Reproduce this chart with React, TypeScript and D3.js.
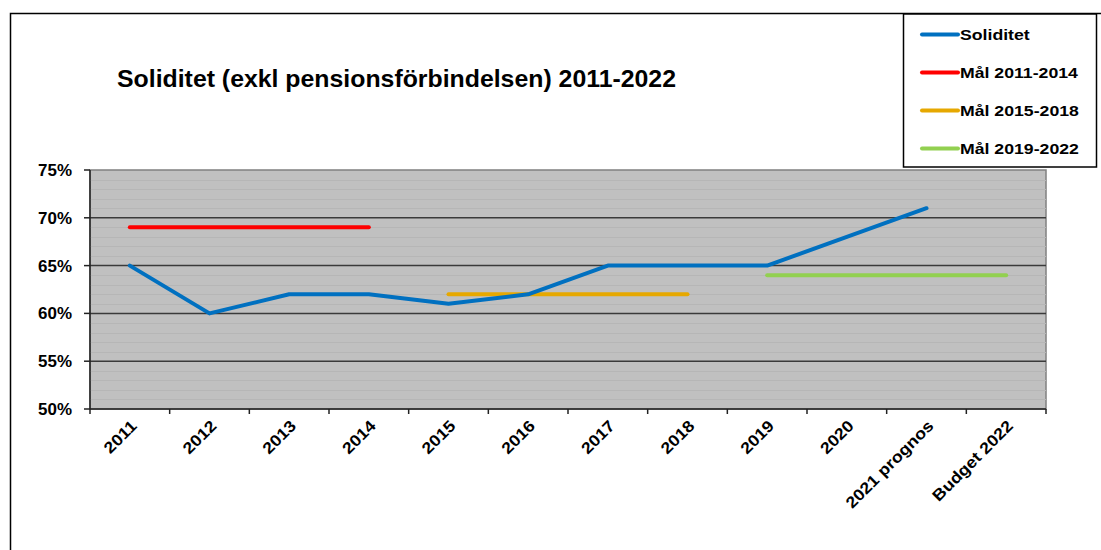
import { useEffect, useRef } from "react";
import { select, scaleLinear, scaleBand, line, range } from "d3";

const width = 1101;
const height = 550;

const categories = [
  "2011", "2012", "2013", "2014", "2015", "2016",
  "2017", "2018", "2019", "2020", "2021 prognos", "Budget 2022",
];
// Soliditet in percent, null where there is no value
const soliditet: (number | null)[] = [65, 60, 62, 62, 61, 62, 65, 65, 65, 68, 71, null];
const mal2011: (number | null)[] = [69, 69, 69, 69, null, null, null, null, null, null, null, null];
const mal2015: (number | null)[] = [null, null, null, null, 62, 62, 62, 62, null, null, null, null];
const mal2019: (number | null)[] = [null, null, null, null, null, null, null, null, 64, 64, 64, 64];

const yTicks = [50, 55, 60, 65, 70, 75];

const series = [
  { name: "Soliditet", values: soliditet, color: "#0070C0" },
  { name: "Mål 2011-2014", values: mal2011, color: "#FF0000" },
  { name: "Mål 2015-2018", values: mal2015, color: "#E6A800" },
  { name: "Mål 2019-2022", values: mal2019, color: "#92D050" },
];

const plot = { left: 90, top: 170, right: 1046, bottom: 409 };
const font = "'Liberation Sans', Arial, sans-serif";

export default function App() {
  const svgRef = useRef<SVGSVGElement | null>(null);

  useEffect(() => {
    const svg = select(svgRef.current);
    svg.selectAll("*").remove();

    const x = scaleBand<string>()
      .domain(categories)
      .range([plot.left, plot.right]);
    const y = scaleLinear().domain([50, 75]).range([plot.bottom, plot.top]);

    // outer frame
    svg.append("path")
      .attr("d", `M10.5,${height} V13.5 H${width}`)
      .attr("fill", "none")
      .attr("stroke", "black")
      .attr("stroke-width", 1.5);

    // plot background
    svg.append("rect")
      .attr("x", plot.left)
      .attr("y", plot.top)
      .attr("width", plot.right - plot.left)
      .attr("height", plot.bottom - plot.top)
      .attr("fill", "#C0C0C0")
      .attr("stroke", "#808080")
      .attr("stroke-width", 1.5);

    // faint stripes every percent
    svg.append("g")
      .selectAll("line")
      .data(range(51, 75).filter((v) => v % 5 !== 0))
      .enter()
      .append("line")
      .attr("x1", plot.left)
      .attr("x2", plot.right)
      .attr("y1", (d) => Math.round(y(d)) + 0.5)
      .attr("y2", (d) => Math.round(y(d)) + 0.5)
      .attr("stroke", "#B6B6B6")
      .attr("stroke-width", 1);

    // major gridlines
    svg.append("g")
      .selectAll("line")
      .data(yTicks.filter((v) => v > 50 && v < 75))
      .enter()
      .append("line")
      .attr("x1", plot.left)
      .attr("x2", plot.right)
      .attr("y1", (d) => y(d))
      .attr("y2", (d) => y(d))
      .attr("stroke", "#3a3a3a")
      .attr("stroke-width", 1.5);

    // axes
    svg.append("line")
      .attr("x1", plot.left).attr("x2", plot.left)
      .attr("y1", plot.top).attr("y2", plot.bottom)
      .attr("stroke", "#222").attr("stroke-width", 1.5);
    svg.append("line")
      .attr("x1", plot.left).attr("x2", plot.right)
      .attr("y1", plot.bottom).attr("y2", plot.bottom)
      .attr("stroke", "#222").attr("stroke-width", 1.5);

    // y ticks + labels
    const yAxis = svg.append("g");
    yAxis.selectAll("line")
      .data(yTicks)
      .enter()
      .append("line")
      .attr("x1", plot.left - 6)
      .attr("x2", plot.left)
      .attr("y1", (d) => y(d))
      .attr("y2", (d) => y(d))
      .attr("stroke", "#222")
      .attr("stroke-width", 1.5);
    yAxis.selectAll("text")
      .data(yTicks)
      .enter()
      .append("text")
      .attr("transform", (d) => `translate(${plot.left - 18},${y(d) + 6}) scale(1.06,1)`)
      .attr("text-anchor", "end")
      .attr("font-family", font)
      .attr("font-weight", "bold")
      .attr("font-size", 16)
      .text((d) => `${d}%`);

    // x ticks at band boundaries
    const bounds = categories.map((c) => x(c) as number).concat([plot.right]);
    svg.append("g")
      .selectAll("line")
      .data(bounds)
      .enter()
      .append("line")
      .attr("x1", (d) => d)
      .attr("x2", (d) => d)
      .attr("y1", plot.bottom)
      .attr("y2", plot.bottom + 5)
      .attr("stroke", "#222")
      .attr("stroke-width", 1.5);

    // x labels
    svg.append("g")
      .selectAll("text")
      .data(categories)
      .enter()
      .append("text")
      .attr("transform", (d) => {
        const cx = (x(d) as number) + x.bandwidth() / 2 + 4;
        return `translate(${cx},${plot.bottom + 14}) rotate(-45) scale(1.12,1)`;
      })
      .attr("text-anchor", "end")
      .attr("dy", "0.35em")
      .attr("font-family", font)
      .attr("font-weight", "bold")
      .attr("font-size", 16)
      .text((d) => d);

    // series lines
    const cx = (i: number) => (x(categories[i]) as number) + x.bandwidth() / 2;
    const lineGen = line<number | null>()
      .defined((d) => d !== null)
      .x((_, i) => cx(i))
      .y((d) => y(d as number));

    // draw targets first, then Soliditet on top
    [...series.slice(1), series[0]].forEach((s) => {
      svg.append("path")
        .attr("d", lineGen(s.values))
        .attr("fill", "none")
        .attr("stroke", s.color)
        .attr("stroke-width", 4)
        .attr("stroke-linecap", "round")
        .attr("stroke-linejoin", "round");
    });

    // title
    svg.append("text")
      .attr("x", 117)
      .attr("y", 87)
      .attr("font-family", font)
      .attr("font-weight", "bold")
      .attr("font-size", 24)
      .attr("textLength", 559)
      .attr("lengthAdjust", "spacingAndGlyphs")
      .text("Soliditet (exkl pensionsförbindelsen) 2011-2022");

    // legend
    const legend = svg.append("g");
    legend.append("rect")
      .attr("x", 903.5)
      .attr("y", 14)
      .attr("width", 193)
      .attr("height", 153)
      .attr("fill", "white")
      .attr("stroke", "black")
      .attr("stroke-width", 1.5);
    const items = legend.selectAll("g")
      .data(series)
      .enter()
      .append("g")
      .attr("transform", (_, i) => `translate(0,${34.5 + i * 38})`);
    items.append("line")
      .attr("x1", 922)
      .attr("x2", 958)
      .attr("y1", 0)
      .attr("y2", 0)
      .attr("stroke", (d) => d.color)
      .attr("stroke-width", 4)
      .attr("stroke-linecap", "round");
    items.append("text")
      .attr("transform", "translate(960,5.5) scale(1.22,1)")
      .attr("font-family", font)
      .attr("font-weight", "bold")
      .attr("font-size", 14.5)
      .text((d) => d.name);
  }, []);

  return (
    <svg
      ref={svgRef}
      width={width}
      height={height}
      style={{ position: "absolute", left: 0, top: 0, background: "white" }}
    />
  );
}
